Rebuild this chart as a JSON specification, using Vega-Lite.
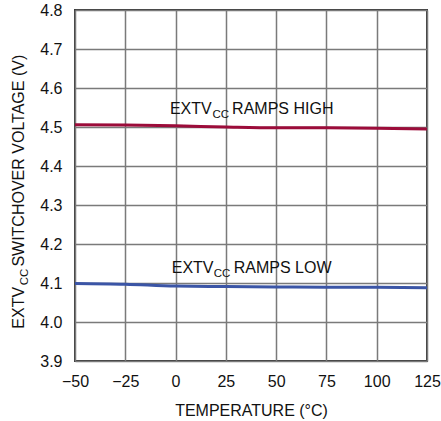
{
  "$schema": "https://vega.github.io/schema/vega-lite/v6.json",
  "width": 352,
  "height": 351,
  "autosize": "none",
  "padding": {"left": 75, "top": 10, "right": 14, "bottom": 60},
  "background": "white",
  "config": {
    "font": "Liberation Sans",
    "view": {"stroke": "#3a3a3a", "strokeWidth": 2},
    "axis": {
      "labelFont": "Liberation Sans",
      "titleFont": "Liberation Sans",
      "labelFontSize": 16,
      "titleFontSize": 16,
      "labelColor": "#111",
      "titleColor": "#111",
      "titleFontWeight": "normal",
      "ticks": false,
      "domain": false,
      "gridColor": "#7a7a7a",
      "gridWidth": 1.5,
      "gridOpacity": 1
    }
  },
  "layer": [
    {
      "data": {"values": [
        {"t": -50, "v": 4.506, "s": "HIGH"},
        {"t": -25, "v": 4.505, "s": "HIGH"},
        {"t": 0, "v": 4.503, "s": "HIGH"},
        {"t": 25, "v": 4.500, "s": "HIGH"},
        {"t": 50, "v": 4.498, "s": "HIGH"},
        {"t": 75, "v": 4.498, "s": "HIGH"},
        {"t": 100, "v": 4.497, "s": "HIGH"},
        {"t": 125, "v": 4.495, "s": "HIGH"},
        {"t": -50, "v": 4.099, "s": "LOW"},
        {"t": -25, "v": 4.097, "s": "LOW"},
        {"t": 0, "v": 4.092, "s": "LOW"},
        {"t": 25, "v": 4.091, "s": "LOW"},
        {"t": 50, "v": 4.090, "s": "LOW"},
        {"t": 75, "v": 4.089, "s": "LOW"},
        {"t": 100, "v": 4.089, "s": "LOW"},
        {"t": 125, "v": 4.088, "s": "LOW"}
      ]},
      "mark": {"type": "line", "strokeWidth": 3, "interpolate": "monotone"},
      "encoding": {
        "x": {
          "field": "t", "type": "quantitative",
          "scale": {"domain": [-50, 125], "nice": false, "zero": false},
          "axis": {
            "title": "TEMPERATURE (°C)",
            "values": [-50, -25, 0, 25, 50, 75, 100, 125],
            "labelPadding": 12,
            "titlePadding": 13,
            "labelFlush": false,
            "labelOverlap": false
          }
        },
        "y": {
          "field": "v", "type": "quantitative",
          "scale": {"domain": [3.9, 4.8], "nice": false, "zero": false},
          "axis": {
            "title": null,
            "tickCount": 9,
            "labelExpr": "format(datum.value, '.1f')",
            "labelPadding": 13,
            "labelOverlap": false,
            "labelBound": false,
            "labelFlush": false
          }
        },
        "color": {
          "field": "s", "type": "nominal",
          "scale": {"domain": ["HIGH", "LOW"], "range": ["#9c0c3a", "#3b55a6"]},
          "legend": null
        }
      }
    },
    {
      "data": {"values": [
        {"t": -2.8, "v": 4.533, "label": "EXTV"},
        {"t": 28.1, "v": 4.533, "label": "RAMPS HIGH"},
        {"t": -1.9, "v": 4.125, "label": "EXTV"},
        {"t": 28.9, "v": 4.125, "label": "RAMPS LOW"}
      ]},
      "mark": {"type": "text", "align": "left", "baseline": "alphabetic", "fontSize": 16, "color": "#111", "font": "Liberation Sans"},
      "encoding": {
        "x": {"field": "t", "type": "quantitative"},
        "y": {"field": "v", "type": "quantitative"},
        "text": {"field": "label"}
      }
    },
    {
      "data": {"values": [
        {"t": 18.3, "v": 4.523, "label": "CC"},
        {"t": 19.0, "v": 4.115, "label": "CC"}
      ]},
      "mark": {"type": "text", "align": "left", "baseline": "alphabetic", "fontSize": 11.5, "color": "#111", "font": "Liberation Sans"},
      "encoding": {
        "x": {"field": "t", "type": "quantitative"},
        "y": {"field": "v", "type": "quantitative"},
        "text": {"field": "label"}
      }
    },
    {
      "data": {"values": [
        {"t": -75.6, "v": 3.983, "label": "EXTV"},
        {"t": -75.6, "v": 4.142, "label": "SWITCHOVER VOLTAGE (V)"}
      ]},
      "mark": {"type": "text", "align": "left", "baseline": "alphabetic", "angle": 270, "fontSize": 16, "color": "#111", "font": "Liberation Sans"},
      "encoding": {
        "x": {"field": "t", "type": "quantitative"},
        "y": {"field": "v", "type": "quantitative"},
        "text": {"field": "label"}
      }
    },
    {
      "data": {"values": [
        {"t": -73.6, "v": 4.094, "label": "CC"}
      ]},
      "mark": {"type": "text", "align": "left", "baseline": "alphabetic", "angle": 270, "fontSize": 11.5, "color": "#111", "font": "Liberation Sans"},
      "encoding": {
        "x": {"field": "t", "type": "quantitative"},
        "y": {"field": "v", "type": "quantitative"},
        "text": {"field": "label"}
      }
    }
  ]
}
